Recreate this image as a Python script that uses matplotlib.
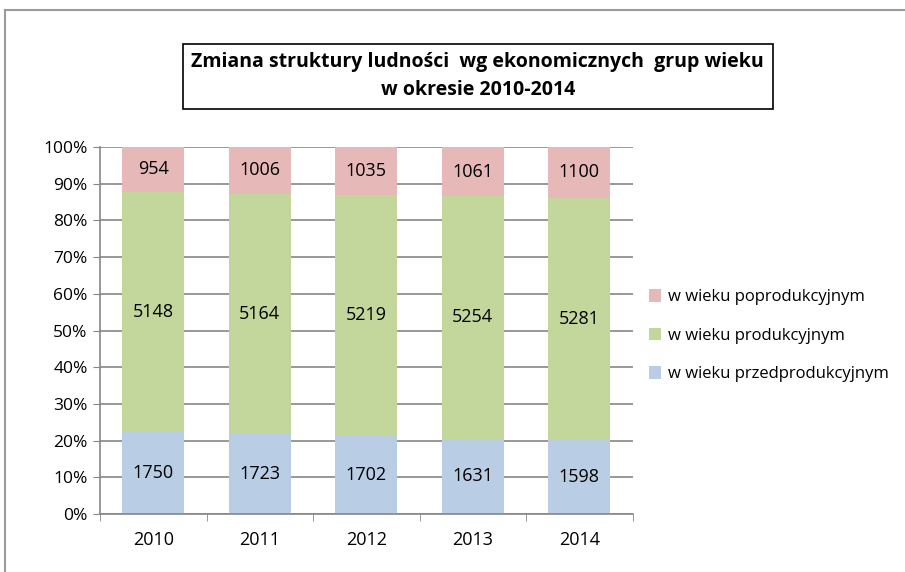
import matplotlib
matplotlib.use("Agg")
import matplotlib.pyplot as plt
import numpy as np
from matplotlib.lines import Line2D

years = ["2010", "2011", "2012", "2013", "2014"]
przed = [1750, 1723, 1702, 1631, 1598]
prod = [5148, 5164, 5219, 5254, 5281]
popro = [954, 1006, 1035, 1061, 1100]
names = ["w wieku przedprodukcyjnym", "w wieku produkcyjnym", "w wieku poprodukcyjnym"]
colors = ["#B9CDE5", "#C3D69B", "#E6B9B8"]

plt.rcParams['font.family'] = ['Open Sans', 'DejaVu Sans']

fig = plt.figure(figsize=(9.05, 5.72), dpi=100)
ax = fig.add_axes([0.1105, 0.1014, 0.5885, 0.6416])

series = [np.array(przed, float), np.array(prod, float), np.array(popro, float)]
total = sum(series)
x = np.arange(len(years))
bottom = np.zeros(len(years))
for vals, col, name in zip(series, colors, names):
    share = vals / total * 100
    ax.bar(x, share, 0.58, bottom=bottom, color=col, label=name, zorder=2)
    for xi, b, s, v in zip(x, bottom, share, vals):
        ax.text(xi, b + s / 2, str(int(v)), ha="center", va="center",
                fontsize=13, zorder=3)
    bottom += share

ax.set_xlim(-0.5, len(years) - 0.5)
ax.set_ylim(0, 100)
ax.set_yticks(range(0, 101, 10))
ax.set_yticklabels([f"{v}%" for v in range(0, 101, 10)], fontsize=12.5)
ax.set_xticks(x)
ax.set_xticklabels(years, fontsize=13)
ax.set_xticks(np.arange(len(years) + 1) - 0.5, minor=True)
ax.tick_params(axis="x", which="major", length=0, pad=12)
ax.tick_params(axis="x", which="minor", length=5, color="#868686")
ax.tick_params(axis="y", length=5, color="#868686", pad=4)
ax.yaxis.grid(True, color="#868686", linewidth=1.2, zorder=1)
for s in ["top", "right"]:
    ax.spines[s].set_visible(False)
for s in ["left", "bottom"]:
    ax.spines[s].set_color("#868686")
    ax.spines[s].set_linewidth(1.2)

handles, labels = ax.get_legend_handles_labels()
leg = fig.legend(handles[::-1], labels[::-1], loc="center left", bbox_to_anchor=(0.70, 0.413),
                 frameon=False, handlelength=0.75, handleheight=0.75, handletextpad=0.4,
                 labelspacing=1.35, prop={'size': 12})

fig.text(0.528, 0.867, "Zmiana struktury ludności  wg ekonomicznych  grup wieku\nw okresie 2010-2014",
         ha="center", va="center", fontsize=14, fontweight="bold", linespacing=1.5,
         bbox=dict(boxstyle="square,pad=0.45", facecolor="white", edgecolor="black", linewidth=1.2))

# outer chart border
fig.add_artist(Line2D([5 / 905, 5 / 905], [0, 1 - 10 / 572], transform=fig.transFigure,
                      color="#9a9a9a", linewidth=1.5))
fig.add_artist(Line2D([5 / 905, 1], [1 - 10 / 572, 1 - 10 / 572], transform=fig.transFigure,
                      color="#9a9a9a", linewidth=1.5))

fig.savefig("out.png", dpi=100)
